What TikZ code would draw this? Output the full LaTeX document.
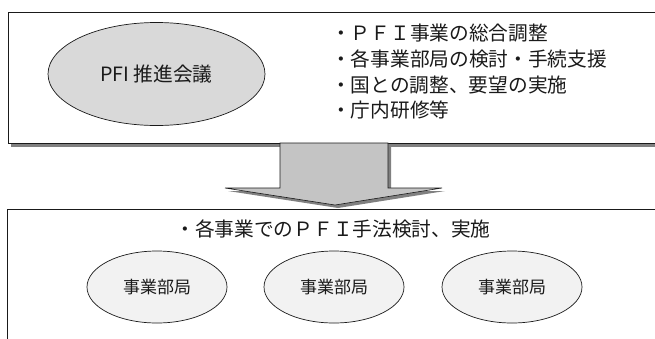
\documentclass[tikz,border=0pt]{standalone}
\usepackage{fontspec}
\setmainfont{Noto Sans CJK JP}
\usetikzlibrary{shapes.geometric}
\definecolor{inkc}{HTML}{1A1A1A}
\definecolor{shadowc}{HTML}{808080}
\definecolor{topell}{HTML}{D9D9D9}
\definecolor{lowell}{HTML}{F2F2F2}
\definecolor{arrowc}{HTML}{C4C4C4}
\begin{document}
\begin{tikzpicture}[x=1pt,y=-1pt,
  bigtext/.style={font=\fontsize{19.7}{24}\selectfont, text=inkc, text height=17.2pt, text depth=2.3pt, inner sep=0pt},
  unitell/.style={ellipse, draw=inkc, line width=0.7pt, fill=lowell, minimum width=140pt, minimum height=72pt, inner sep=0pt, font=\fontsize{17}{20}\selectfont, text=inkc},
  boxline/.style={draw=inkc, line width=0.8pt}]
\useasboundingbox (0,0) rectangle (655,338);
\clip (0,0) rectangle (655,338);
\fill[white] (0,0) rectangle (655,338);
% top box with shadow
\fill[shadowc] (11,15) rectangle (662,147);
\filldraw[fill=white, boxline] (8,12) rectangle (659,143);
% top ellipse
\node[ellipse, draw=inkc, line width=0.7pt, fill=topell, minimum width=217pt, minimum height=103pt, inner sep=0pt, font=\fontsize{19.7}{24}\selectfont, text=inkc] (council) at (156.5,74) {PFI 推進会議};
% bullet lines
\node[bigtext, anchor=west] (b1) at (331,33) {・ＰＦＩ事業の総合調整};
\node[bigtext, anchor=west] (b2) at (331,59) {・各事業部局の検討・手続支援};
\node[bigtext, anchor=west] (b3) at (331,85) {・国との調整、要望の実施};
\node[bigtext, anchor=west] (b4) at (331,110) {・庁内研修等};
% block arrow with shadow
\fill[shadowc] (283,146) -- (391,146) -- (391,191) -- (445,191) -- (338,208) -- (228,191) -- (283,191) -- cycle;
\filldraw[fill=arrowc, draw=inkc, line width=0.6pt] (280,143) coordinate (arrtop) -- (388,143) -- (388,188) -- (442,188) -- (335,205) coordinate (arrtip) -- (225,188) -- (280,188) -- cycle;
% lower box
\draw[boxline] (660,209) -- (7,209) -- (7,345);
\node[bigtext] (task) at (333,229) {・各事業でのＰＦＩ手法検討、実施};
\node[unitell] (u1) at (157,287) {事業部局};
\node[unitell] (u2) at (334,287) {事業部局};
\node[unitell] (u3) at (512,287) {事業部局};
\end{tikzpicture}
\end{document}
